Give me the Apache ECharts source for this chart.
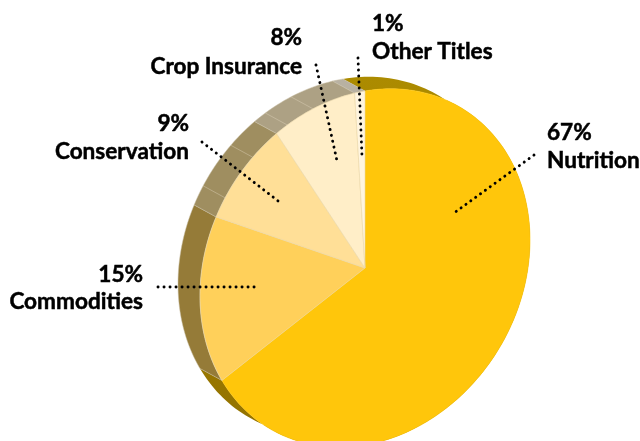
<!DOCTYPE html>
<html>
<head>
<meta charset="utf-8">
<style>html,body{margin:0;padding:0;background:#fff}#c{width:640px;height:441px}</style>
<script src="https://cdn.jsdelivr.net/npm/echarts@6/dist/echarts.min.js"></script>
</head>
<body>
<div id="c"></div>
<script>
// Slice sweeps are estimated, the printed labels are rounded
const categories = ['Nutrition', 'Commodities', 'Conservation', 'Crop Insurance', 'Other Titles'];
const shares = [66.7, 15.4, 8.9, 8.0, 1.0];
const percentLabels = ['67%', '15%', '9%', '8%', '1%'];
const topColors = ['#FFC60B', '#FFD05A', '#FFDF97', '#FFEEC8', '#FFF5E0'];
const rimColors = ['#A38300', '#957B38', '#9F8E60', '#ADA184', '#B8B1A2'];
const rimFacetShares = [83.9, 88.1, 92.2, 94.9];

const FONT = 'Lato';
const cx = 365, cy = 268, rx = 165, ry = 177, skew = -28;
const depthX = -22, depthY = -12;
function point(deg, ox, oy) {
  const t = deg * Math.PI / 180;
  return [cx + ox + rx * Math.sin(t), cy + oy - ry * Math.cos(t) + skew * Math.sin(t)];
}
function sweep(i) {
  let before = 0;
  for (let k = 0; k < i; k++) before += shares[k];
  return [before * 3.6, (before + shares[i]) * 3.6];
}
function arc(a, b, ox, oy) {
  const n = Math.max(2, Math.ceil(Math.abs(b - a) / 1.5));
  const out = [];
  for (let k = 0; k <= n; k++) out.push(point(a + (b - a) * k / n, ox, oy));
  return out;
}
function renderTop(params) {
  const [a, b] = sweep(params.dataIndex);
  return {
    type: 'polygon',
    shape: { points: [[cx, cy]].concat(arc(a, b, 0, 0)) },
    style: { fill: topColors[params.dataIndex], stroke: params.dataIndex === 0 ? topColors[0] : '#EBD7A6', lineWidth: 0.6 }
  };
}
function renderRim(params) {
  const [a, b] = sweep(params.dataIndex);
  const i = params.dataIndex;
  const fill = i === 0
    ? { type: 'linear', x: 0, y: 0, x2: 0, y2: 1, colorStops: [{ offset: 0, color: '#AC8B00' }, { offset: 1, color: '#927100' }] }
    : rimColors[i];
  return {
    type: 'polygon',
    shape: { points: arc(a, b, 0, 0).concat(arc(b, a, depthX, depthY)) },
    style: { fill: fill, stroke: i === 0 ? null : '#C9BFA4', lineWidth: i === 0 ? 0 : 0.5 }
  };
}
function renderFacet(params) {
  const d = rimFacetShares[params.dataIndex] * 3.6;
  const p = point(d, 0, 0), q = point(d, depthX, depthY);
  return {
    type: 'line',
    shape: { x1: p[0], y1: p[1], x2: q[0], y2: q[1] },
    style: { stroke: 'rgba(225,215,190,0.7)', lineWidth: 0.6 }
  };
}
function label(text, x, y, align) {
  return { type: 'text', x: x, y: y, z: 20,
    style: { text: text, x: 0, y: 0, fill: '#000', stroke: '#000', lineWidth: 0.5, font: '700 22.6px ' + FONT, align: align, verticalAlign: 'middle' } };
}
function leader(x1, y1, x2, y2) {
  return { type: 'line', z: 10, shape: { x1, y1, x2, y2 },
    style: { stroke: '#000', lineWidth: 2.9, lineCap: 'round', lineDash: [0.1, 5.9] } };
}
const chart = echarts.init(document.getElementById('c'), null, { renderer: 'canvas' });
chart.setOption({
  animation: false,
  backgroundColor: '#fff',
  series: [
    { type: 'custom', coordinateSystem: 'none', name: 'rim', z: 1, silent: true, renderItem: renderRim, data: shares.slice() },
    { type: 'custom', coordinateSystem: 'none', name: 'facets', z: 2, silent: true, renderItem: renderFacet, data: rimFacetShares.slice() },
    { type: 'custom', coordinateSystem: 'none', name: 'Share', z: 3, silent: true, renderItem: renderTop,
      data: shares.map((v, i) => ({ name: categories[i], value: v })) }
  ],
  graphic: { elements: [
    leader(534, 155, 454, 213),
    leader(158, 287, 260, 287),
    leader(202, 142, 282, 204),
    leader(316, 65, 337, 161),
    leader(358, 58, 362, 157),
    label(percentLabels[0], 547, 133, 'left'),
    label(categories[0], 547, 161, 'left'),
    label(percentLabels[1], 143, 275, 'right'),
    label(categories[1], 143, 302, 'right'),
    label(percentLabels[2], 189, 124, 'right'),
    label(categories[2], 189, 152, 'right'),
    label(percentLabels[3], 302, 38, 'right'),
    label(categories[3], 302, 67, 'right'),
    label(percentLabels[4], 372, 24, 'left'),
    label(categories[4], 372, 52, 'left')
  ] }
});
</script>
</body>
</html>
